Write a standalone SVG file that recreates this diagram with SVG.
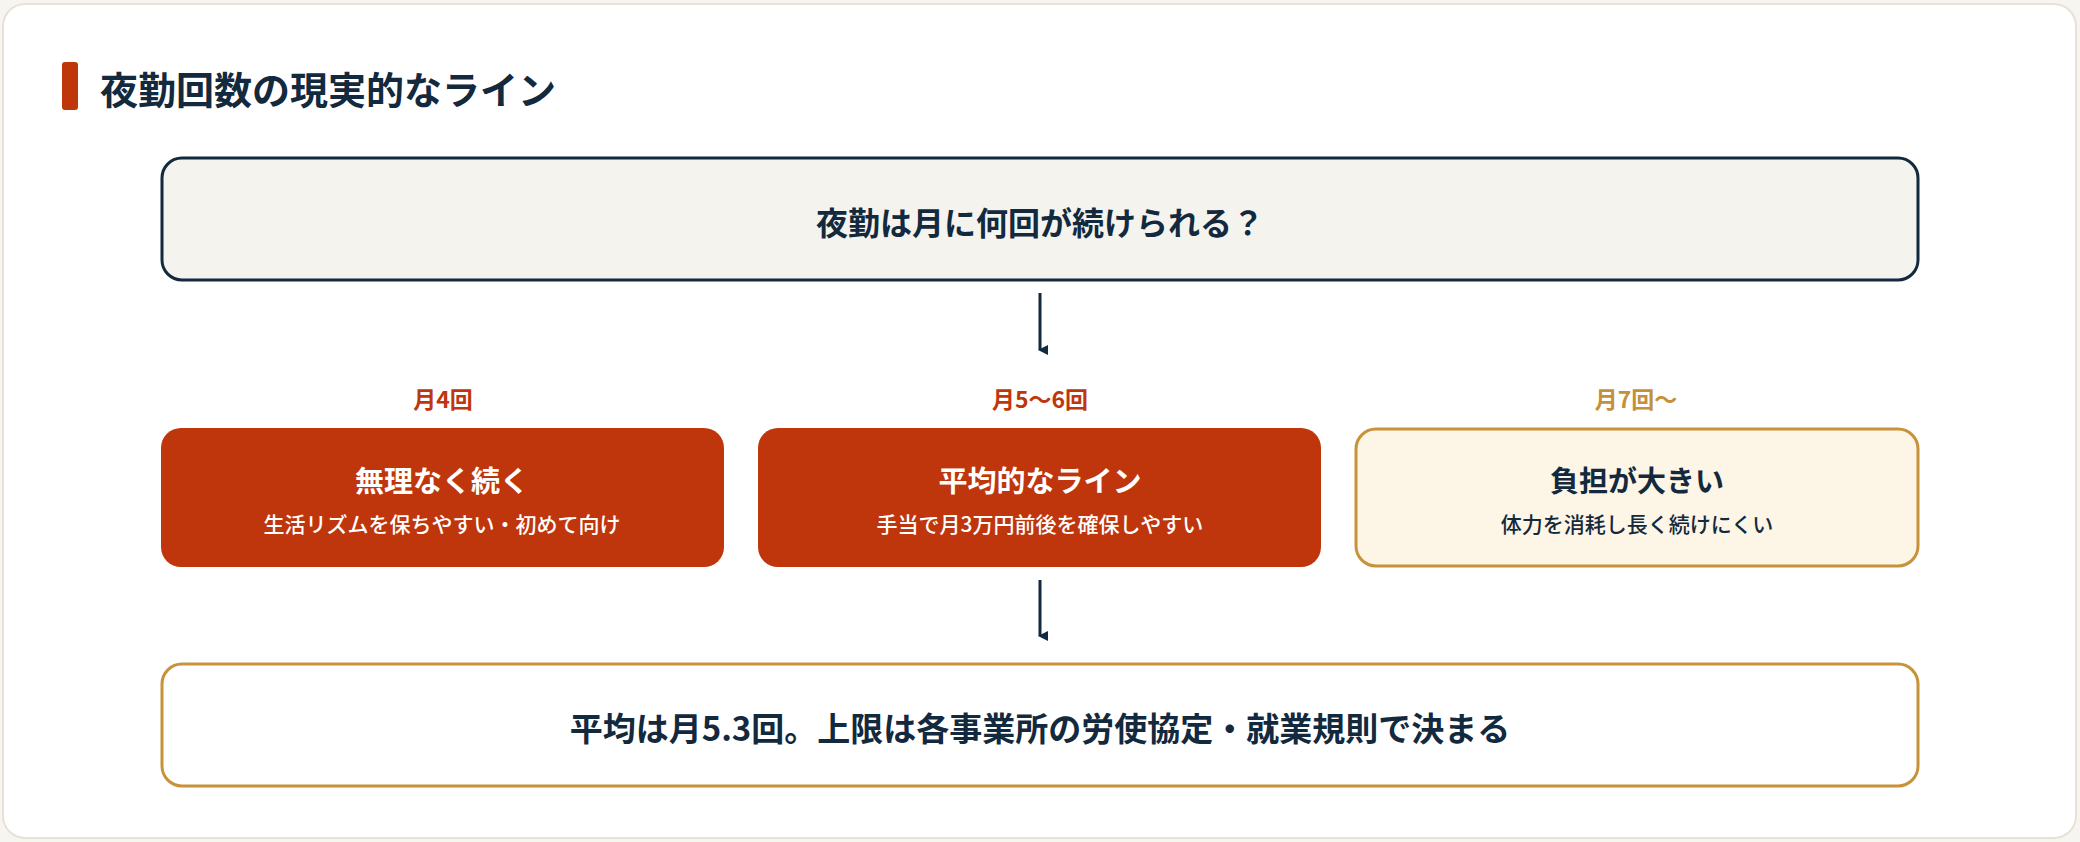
<svg xmlns="http://www.w3.org/2000/svg" width="2080" height="842" viewBox="0 0 2080 842">
<style>
text{font-family:"Noto Sans CJK JP","Noto Sans",sans-serif;font-weight:700;text-anchor:middle}
.navy{fill:#13293d}
.red{fill:#bf360c}
.gold{fill:#c4903a}
.w{fill:#ffffff}
.sub{font-weight:500}
</style>
<defs>
<marker id="ah" markerWidth="10" markerHeight="10" refX="5" refY="8" orient="auto" markerUnits="userSpaceOnUse" viewBox="0 0 10 10"><path d="M0,0 L10,0 L5,10 Z" fill="#13293d"/></marker>
</defs>
<rect x="0" y="0" width="2080" height="842" fill="#f7f5ef"/>
<rect x="3" y="4" width="2073" height="834" rx="22" fill="#ffffff" stroke="#e6e2d6" stroke-width="2"/>
<g id="title">
<rect x="62" y="62" width="16" height="48" rx="3" fill="#bf360c"/>
<text x="100" y="104" font-size="38" class="navy" style="text-anchor:start">夜勤回数の現実的なライン</text>
</g>
<g id="q">
<rect x="162" y="158" width="1756" height="122" rx="20" fill="#f5f3ee" stroke="#13293d" stroke-width="3"/>
<text x="1040" y="235" font-size="32" class="navy">夜勤は月に何回が続けられる？</text>
</g>
<g id="lab4"><text x="443" y="408" font-size="23" class="red">月4回</text></g>
<g id="lab56"><text x="1040" y="408" font-size="23" class="red">月5〜6回</text></g>
<g id="lab7"><text x="1636" y="408" font-size="23" class="gold">月7回〜</text></g>
<g id="n4">
<rect x="161" y="428" width="563" height="139" rx="20" fill="#bf360c"/>
<text x="442" y="492" font-size="29" class="w">無理なく続く</text>
<text x="442" y="532" font-size="21" class="w sub">生活リズムを保ちやすい・初めて向け</text>
</g>
<g id="n56">
<rect x="758" y="428" width="563" height="139" rx="20" fill="#bf360c"/>
<text x="1040" y="492" font-size="29" class="w">平均的なライン</text>
<text x="1040" y="532" font-size="21" class="w sub">手当で月3万円前後を確保しやすい</text>
</g>
<g id="n7">
<rect x="1356" y="429" width="562" height="137" rx="20" fill="#fdf5e6" stroke="#c8923a" stroke-width="3"/>
<text x="1637" y="492" font-size="29" class="navy">負担が大きい</text>
<text x="1637" y="532" font-size="21" class="navy sub">体力を消耗し長く続けにくい</text>
</g>
<g id="res">
<rect x="162" y="664" width="1756" height="122" rx="20" fill="#ffffff" stroke="#c8923a" stroke-width="3"/>
<text x="1040" y="741" font-size="33" class="navy">平均は月5.3回。上限は各事業所の労使協定・就業規則で決まる</text>
</g>
<g id="connectors" stroke="#13293d" stroke-width="3" fill="none">
<line x1="1040" y1="293" x2="1040" y2="350" marker-end="url(#ah)"/>
<line x1="1040" y1="580" x2="1040" y2="636" marker-end="url(#ah)"/>
</g>
</svg>
